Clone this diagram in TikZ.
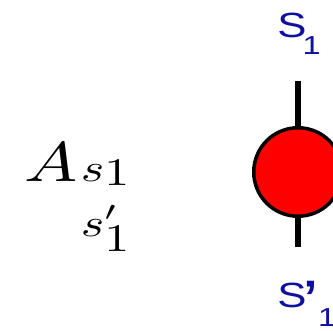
\documentclass[tikz,border=0pt]{standalone}
\usepackage{fontspec}
\newfontfamily\labfont{Liberation Sans}
\definecolor{labblue}{RGB}{16,16,160}
\tikzset{
  tensor/.style={circle, draw=black, fill=red, line width=3.5pt, minimum size=88.5pt, inner sep=0pt},
  leg/.style={line width=6pt, black},
  legtext/.style={anchor=base west, inner sep=0pt, text=labblue, xscale=1.25, font=\labfont\fontsize{35}{35}\selectfont},
  mathtext/.style={anchor=base west, inner sep=0pt}
}
\newcommand{\labsub}[2]{\raisebox{#1}{\fontsize{26}{26}\selectfont #2}}
\begin{document}
\begin{tikzpicture}[x=1pt,y=1pt]
\useasboundingbox (0,0) rectangle (333,331);
\clip (0,0) rectangle (333,331);
\coordinate (legtop) at (298,250);
\coordinate (legbot) at (298,84);
\draw[leg] (legtop) -- (legbot);
\node[tensor] (T) at (298,159) {};
\node[legtext] (ltop) at (277,293) {S\kern-3pt\labsub{-17pt}{1}};
\node[legtext] (lbot) at (277,23) {S\kern-3pt\raisebox{-15pt}{\fontsize{60}{60}\selectfont ’}\kern-1pt\labsub{-19pt}{1}};
\node[mathtext, xscale=7.1, yscale=5.6] (A) at (23,149) {$A$};
\node[mathtext, xscale=5.0, yscale=3.9] (s1) at (80,149) {$s\lower1pt\hbox{$1$}$};
\node[mathtext, xscale=5.0, yscale=3.9] (s1p) at (80,94) {$s\rlap{\raisebox{4.2pt}{$\scriptstyle\prime$}}\lower3.8pt\hbox{$1$}$};
\end{tikzpicture}
\end{document}
